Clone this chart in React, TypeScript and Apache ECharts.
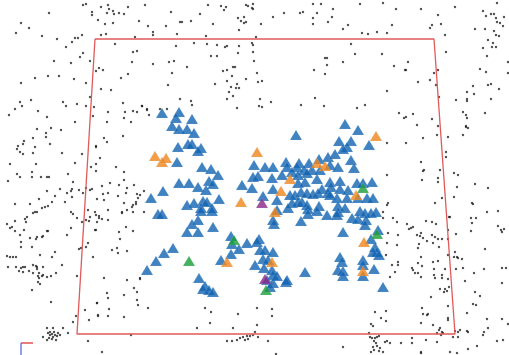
import React, { useEffect, useRef } from "react";
import * as echarts from "echarts";

// Background point cloud (image-space coordinates)
const cloudPoints: number[][] = [
  [86,4],[83,5],[92,12],[92,15],[49,13],[98,20],[21,23],[29,28],[16,33],[42,36],[57,39],[75,38],[78,38],[82,35],[72,42],[66,47],[83,53],[80,57],[54,61],[71,63],[90,61],[99,68],[96,71],[48,76],[59,76],[35,78],[74,79],[21,83],[86,83],[31,100],[63,102],[66,106],[20,102],[22,106],[15,109],[38,111],[77,104],[86,106],[90,97],[94,107],[9,115],[47,117],[93,116],[75,122],[37,129],[51,128],[61,130],[46,133],[46,137],[33,138],[24,141],[23,144],[18,146],[17,149],[35,147],[20,152],[23,154],[33,153],[50,144],[62,153],[82,154],[96,147],[96,164],[10,164],[36,164],[75,163],[91,167],[17,174],[20,177],[32,172],[32,177],[41,177],[47,177],[49,177],[68,174],[8,181],[73,182],[47,191],[55,196],[60,189],[67,193],[71,191],[72,189],[79,190],[83,193],[86,188],[90,190],[92,189],[72,197],[65,202],[52,202],[15,204],[30,204],[39,199],[45,207],[48,206],[42,208],[35,212],[33,213],[37,212],[27,217],[25,219],[26,222],[15,221],[7,224],[10,228],[12,227],[15,231],[24,230],[20,235],[30,238],[37,237],[42,237],[43,236],[48,231],[71,212],[73,214],[77,218],[82,222],[86,220],[89,221],[90,217],[88,210],[95,212],[99,216],[97,222],[95,230],[71,228],[67,235],[21,242],[21,247],[32,247],[36,239],[47,231],[79,249],[81,248],[86,247],[88,243],[93,257],[55,252],[40,255],[52,257],[62,265],[7,256],[10,257],[13,257],[16,257],[8,267],[16,267],[21,268],[23,267],[25,267],[19,271],[23,272],[29,271],[33,265],[36,266],[37,267],[39,273],[43,267],[37,269],[33,273],[38,276],[42,276],[43,275],[39,278],[38,282],[40,284],[47,277],[51,276],[56,273],[77,276],[32,290],[51,302],[97,303],[85,310],[98,315],[89,320],[76,316],[73,322],[68,333],[63,328],[47,328],[53,328],[54,332],[50,335],[47,340],[52,339],[56,340],[88,341],[43,337],[58,333],[48,333],[50,332],[52,334],[55,335],[57,336],[49,338],[53,337],[60,335],
  [455,7],[421,9],[497,3],[438,15],[483,11],[486,16],[491,14],[494,14],[504,17],[496,18],[500,23],[503,26],[497,22],[432,25],[430,28],[441,24],[475,29],[485,29],[494,31],[496,35],[499,36],[445,35],[488,40],[483,48],[493,43],[492,47],[496,47],[446,52],[487,56],[408,62],[406,70],[508,62],[480,69],[486,72],[438,70],[434,73],[508,73],[430,80],[418,82],[436,85],[488,85],[491,84],[473,86],[467,92],[474,94],[499,89],[439,97],[456,100],[467,99],[467,101],[491,99],[485,113],[463,112],[466,115],[467,118],[406,117],[413,114],[432,119],[417,125],[438,126],[466,126],[468,128],[466,127],[463,135],[448,137],[423,138],[437,135],[406,143],[446,152],[446,157],[421,162],[423,171],[424,170],[422,180],[440,170],[438,178],[438,182],[454,173],[458,175],[457,187],[475,184],[488,188],[442,198],[454,197],[435,203],[472,203],[473,204],[487,212],[498,211],[471,218],[472,223],[476,218],[471,231],[449,217],[450,217],[426,221],[432,222],[436,224],[407,224],[409,229],[413,227],[411,228],[417,235],[421,233],[420,236],[423,238],[427,241],[432,235],[435,237],[438,239],[442,239],[448,230],[448,239],[456,234],[498,226],[501,230],[504,229],[502,232],[419,244],[418,248],[433,243],[439,247],[485,249],[455,252],[457,257],[454,257],[458,258],[462,259],[448,255],[421,257],[418,263],[422,266],[438,261],[433,262],[412,268],[413,270],[415,273],[418,273],[421,277],[434,269],[445,269],[456,269],[463,268],[484,269],[502,268],[506,268],[434,275],[435,278],[442,275],[442,278],[448,279],[465,281],[474,273],[502,283],[445,289],[447,291],[444,292],[440,289],[449,287],[475,292],[480,296],[431,297],[473,304],[476,305],[448,306],[467,313],[422,308],[423,314],[427,315],[428,314],[448,318],[448,320],[421,323],[487,319],[502,319],[508,324],[433,325],[455,331],[458,332],[460,330],[467,331],[468,332],[440,328],[439,330],[442,332],[437,333],[443,333],[441,335],[484,332],[488,328],[483,335],[497,341],[503,340],[426,340],[412,338],[437,342],[412,343],[453,337],[458,337],[421,352],[421,353],[450,352],[457,353],[468,349],[477,346],
  [108,5],[101,7],[109,9],[107,13],[113,11],[114,14],[119,13],[124,14],[128,7],[145,5],[171,12],[105,24],[113,23],[139,21],[148,26],[166,26],[180,22],[182,22],[191,21],[200,14],[208,5],[221,6],[226,7],[224,10],[246,5],[248,6],[253,4],[253,9],[252,8],[238,18],[241,21],[244,17],[246,22],[244,23],[239,30],[213,24],[261,24],[273,17],[284,13],[300,13],[303,12],[317,13],[313,4],[321,4],[333,9],[332,17],[313,18],[313,24],[328,22],[348,25],[343,29],[360,4],[383,3],[396,9],[392,25],[377,32],[387,33],[368,34],[362,33],[101,35],[106,34],[135,37],[153,32],[153,35],[177,34],[206,36],[256,37],
  [115,44],[176,46],[194,43],[207,44],[217,45],[225,47],[227,46],[239,46],[252,43],[253,45],[253,52],[238,53],[133,52],[137,51],[211,56],[217,56],[254,61],[132,62],[153,64],[169,62],[174,61],[187,67],[103,70],[172,73],[223,71],[227,70],[233,67],[235,67],[232,76],[257,73],[121,78],[128,74],[215,84],[227,81],[237,84],[246,79],[258,82],[262,81],[231,87],[236,88],[239,88],[229,92],[233,96],[227,99],[168,85],[111,90],[101,89],[180,99],[191,101],[192,105],[123,103],[142,106],[260,99],[271,102],[259,106],[262,107],[237,108],[315,98],[301,105],[324,106],[314,70],[325,74],[327,65],[325,58],[327,58],[343,62],[351,44],[355,54],[382,54],[394,66],[405,70],[387,91],[365,105],[357,108],[147,109],[167,109],[160,109],[399,113],[404,118],
  [108,112],[125,112],[133,111],[137,112],[142,106],[147,110],[149,115],[124,118],[107,122],[131,122],[123,136],[104,138],[107,142],[96,146],[100,158],[116,167],[96,171],[124,172],[110,183],[102,186],[119,185],[127,188],[134,185],[124,180],[108,193],[103,194],[97,199],[104,200],[118,196],[126,193],[137,194],[140,195],[138,198],[144,191],[124,203],[133,205],[122,212],[122,213],[127,210],[108,210],[99,218],[102,219],[96,215],[133,212],[136,204],[136,202],[132,207],[144,212],[108,220],[96,230],[119,232],[126,227],[133,231],[120,239],[112,250],[117,248],[118,253],[127,251],[104,278],[127,280],[140,278],[134,288],[137,292],[124,295],[107,293],[108,298],[137,300],[138,305],[109,309],[148,308],[97,303],[98,316],[108,316],[124,317],[131,335],[102,352],
  [205,308],[211,312],[210,323],[197,328],[233,328],[238,314],[257,308],[272,309],[272,316],[257,325],[255,332],[243,337],[247,336],[250,336],[253,335],[240,338],[237,340],[232,341],[227,341],[245,340],[248,339],[258,337],[268,341],[276,354],[343,347],[375,312],[386,311],[381,318],[386,321],[371,324],[373,326],[369,333],[370,337],[372,338],[374,341],[376,343],[377,346],[380,348],[373,347],[374,350],[379,351],[383,352],[385,342],[387,341],[390,343],[401,343],[377,337],[379,336],[375,338],[371,352],
  [387,143],[387,175],[387,205],[383,212],[383,218],[388,203],[393,218],[397,222],[388,233],[398,235],[387,243],[397,245],[386,255],[398,262],[392,265],[398,265],[395,272],[390,277],[140,279]
];

const blueMarks: number[][] = [
  [162,113],[179,112],[176,118],[192,119],[172,126],[179,129],[187,129],[194,133],[178,147],[188,144],[192,144],[201,148],[198,151],[177,162],[202,167],[211,169],[218,175],[254,165],[253,177],[258,176],[179,183],[189,183],[198,187],[209,181],[213,184],[206,190],[163,191],[151,198],[219,199],[203,201],[207,202],[187,205],[194,203],[242,185],[252,188],[201,208],[212,208],
  [158,214],[162,214],[201,211],[212,211],[192,224],[198,220],[187,232],[198,232],[213,227],[173,248],[164,253],[156,261],[147,270],[231,236],[232,244],[239,249],[247,243],[221,260],[231,254],[259,239],[257,242],[260,250],[265,250],[273,252],[263,259],[268,260],[255,265],[264,268],[272,270],[273,275],[267,280],[273,283],[270,287],[286,282],[199,278],[205,286],[203,289],[209,290],[213,292],[273,220],[274,224],
  [345,124],[358,130],[296,135],[339,141],[351,141],[369,145],[347,147],[343,149],[265,167],[273,167],[286,162],[287,167],[299,163],[309,163],[319,159],[328,157],[335,154],[351,160],[330,165],[338,167],[297,167],[292,172],[304,170],[312,170],[307,173],[320,170],[354,168],[272,178],[282,175],[298,175],[298,183],[305,182],[317,179],[330,182],[331,187],[340,181],[357,183],[363,183],[372,182],[273,189],
  [290,195],[295,195],[301,192],[307,193],[313,194],[318,193],[322,189],[328,193],[340,189],[348,190],[347,198],[358,198],[367,198],[373,198],[263,196],[330,195],[337,198],[277,200],[292,203],[298,202],[302,202],[307,205],[319,206],[338,206],[345,208],[288,208],[308,209],[317,211],[277,210],[301,221],[308,214],[327,215],[338,212],[337,215],[352,218],[358,219],[360,211],[365,213],[371,213],[376,212],[366,220],[365,225],
  [343,232],[378,230],[371,239],[375,247],[377,252],[373,252],[379,255],[340,257],[342,262],[338,270],[343,271],[363,260],[363,265],[363,276],[374,269],[305,272],[287,280],[383,287],[343,276],[277,276]
];

const orangeMarks: number[][] = [
  [155,156],[162,162],[166,158],[257,152],[241,202],[376,136],[317,163],[325,166],[290,179],[281,191],[356,195],[275,212],[227,262],[272,262],[364,242],[363,271]
];

const greenMarks: number[][] = [
  [189,261],[234,240],[266,290],[363,188],[377,234]
];

const purpleMarks: number[][] = [
  [262,203],[265,279]
];

// Red outline of the plane, and the small axis gizmo
const frameCorners: number[][] = [[95,39],[434,39],[455,334],[77,334],[95,39]];
const gizmoRed: number[][] = [[21,343],[33,343]];
const gizmoBlue: number[][] = [[21,343],[21,355]];

const W = 509;
const H = 355;

function tri(name: string, data: number[][], color: string) {
  return {
    name,
    type: "scatter",
    data,
    symbol: "triangle",
    symbolSize: [12, 10],
    itemStyle: { color, borderColor: "rgba(200,220,240,0.5)", borderWidth: 0.4 },
    silent: true,
    z: 5,
  };
}

export default function App() {
  const ref = useRef<HTMLDivElement>(null);
  useEffect(() => {
    document.body.style.margin = "0";
    if (!ref.current) return;
    const chart = echarts.init(ref.current, undefined, { renderer: "svg" });
    chart.setOption({
      animation: false,
      backgroundColor: "#ffffff",
      grid: { left: 0, right: 0, top: 0, bottom: 0 },
      xAxis: { type: "value", min: 0, max: W, show: false },
      yAxis: { type: "value", min: 0, max: H, inverse: true, show: false },
      series: [
        {
          type: "scatter",
          data: cloudPoints,
          symbol: "circle",
          symbolSize: 2.4,
          itemStyle: { color: "#1a1a1a" },
          silent: true,
          z: 1,
        },
        {
          type: "line",
          data: frameCorners,
          symbol: "none",
          lineStyle: { color: "#e05a5a", width: 1.3 },
          silent: true,
          z: 3,
        },
        {
          type: "line",
          data: gizmoRed,
          symbol: "none",
          lineStyle: { color: "#e03535", width: 1.3 },
          silent: true,
          z: 3,
        },
        {
          type: "line",
          data: gizmoBlue,
          symbol: "none",
          lineStyle: { color: "#5b6ae0", width: 1.3 },
          silent: true,
          z: 3,
        },
        tri("blue", blueMarks, "#1263b0"),
        tri("orange", orangeMarks, "#f0841a"),
        tri("green", greenMarks, "#1a9e35"),
        tri("purple", purpleMarks, "#8a2488"),
      ],
    });
    return () => chart.dispose();
  }, []);
  return <div ref={ref} style={{ width: W, height: H }} />;
}
